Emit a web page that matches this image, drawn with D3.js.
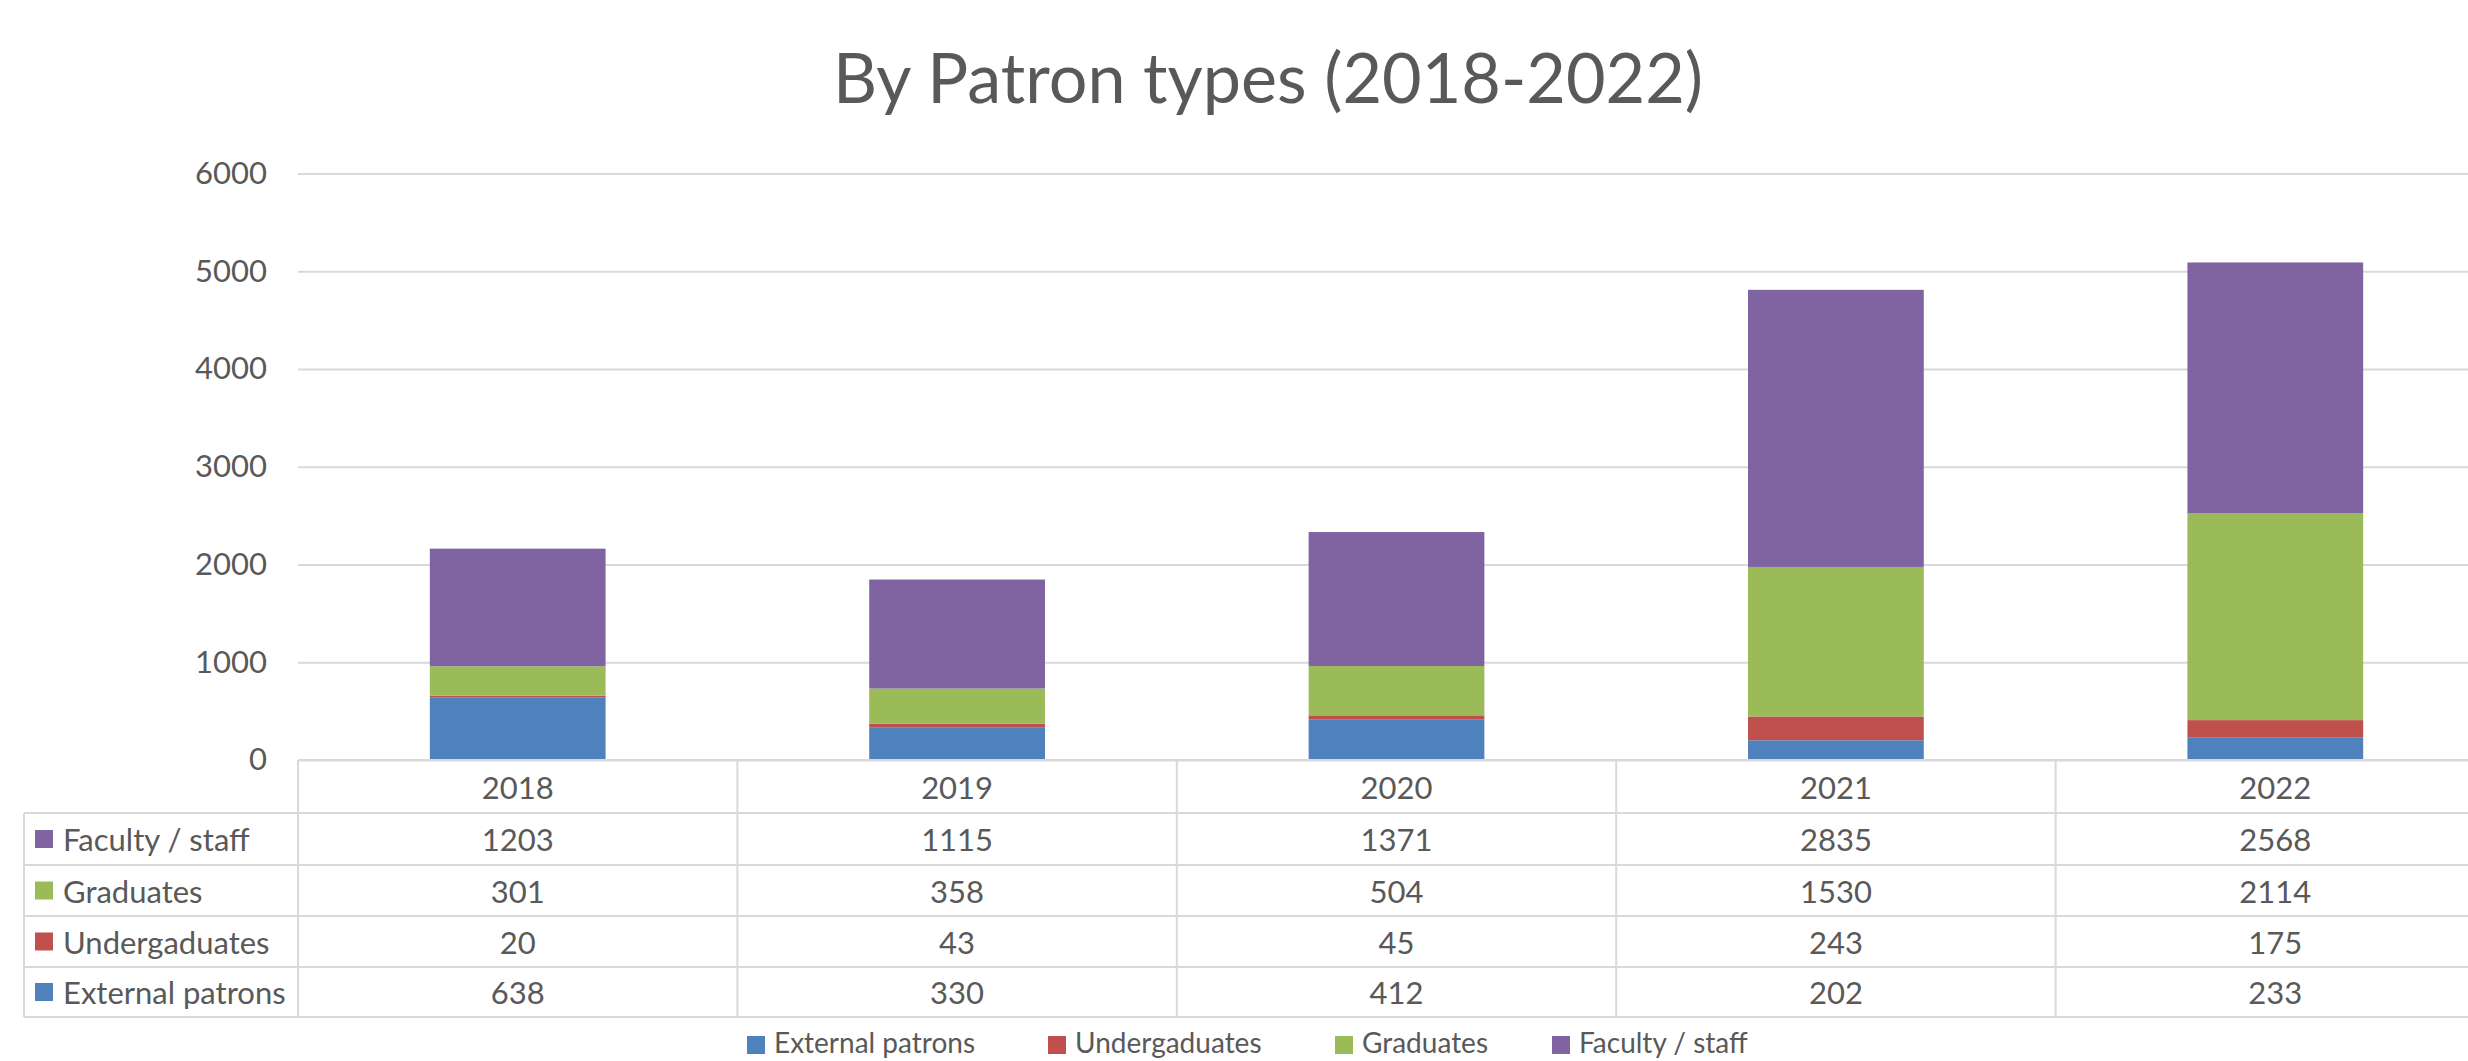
<!DOCTYPE html>
<html>
<head>
<meta charset="utf-8">
<script src="https://cdn.jsdelivr.net/npm/d3@7"></script>
<style>
  html, body { margin: 0; padding: 0; background: #fff; overflow: hidden; }
  svg { display: block; font-family: Lato, "Open Sans", sans-serif; }
</style>
</head>
<body>
<svg id="chart" width="2468" height="1061"></svg>
<script>
// ---- data ----
const years = ["2018", "2019", "2020", "2021", "2022"];
const seriesNames = ["External patrons", "Undergaduates", "Graduates", "Faculty / staff"];
const externalPatrons = [638, 330, 412, 202, 233];
const undergraduates = [20, 43, 45, 243, 175];
const graduates = [301, 358, 504, 1530, 2114];
const facultyStaff = [1203, 1115, 1371, 2835, 2568];
const yTicks = [0, 1000, 2000, 3000, 4000, 5000, 6000];
const colors = ["#4F81BD", "#C0504D", "#9BBB59", "#8064A2"];
const titleText = "By Patron types (2018-2022)";

const seriesValues = [externalPatrons, undergraduates, graduates, facultyStaff];
const rows = years.map((y, i) => {
  const r = { year: y };
  seriesNames.forEach((s, k) => r[s] = seriesValues[k][i]);
  return r;
});

// ---- layout ----
const svg = d3.select("#chart");
const textColor = "#595959";
const gridColor = "#d9d9d9";
const fs = 31;
const plotLeft = 298, step = 439.4;
const plotRight = plotLeft + step * years.length;
const yTop = 173.5, yBottom = 760;

const x = d3.scaleBand().domain(years).range([plotLeft, plotRight]).padding(0);
const y = d3.scaleLinear().domain([0, 6000]).range([yBottom, yTop]);
const color = d3.scaleOrdinal().domain(seriesNames).range(colors);

// title
svg.append("text")
  .attr("x", 1268).attr("y", 103)
  .attr("text-anchor", "middle")
  .attr("fill", textColor)
  .attr("font-size", 70)
  .attr("textLength", 870).attr("lengthAdjust", "spacingAndGlyphs")
  .text(titleText);

// y axis + gridlines
const yAxis = d3.axisLeft(y).tickValues(yTicks).tickSize(-(plotRight - plotLeft)).tickPadding(31).tickFormat(d3.format("d"));
const gy = svg.append("g").attr("transform", `translate(${plotLeft},0)`).call(yAxis);
gy.select(".domain").remove();
gy.selectAll(".tick line").attr("stroke", gridColor).attr("stroke-width", 2);
gy.selectAll(".tick text").attr("fill", textColor).attr("font-size", fs).attr("font-family", "Lato, 'Open Sans', sans-serif");

// stacked bars
const stack = d3.stack().keys(seriesNames);
const stacked = stack(rows);
const barFrac = 0.4;
svg.append("g").selectAll("g").data(stacked).join("g")
  .attr("fill", d => color(d.key))
  .selectAll("rect").data(d => d).join("rect")
  .attr("x", d => x(d.data.year) + x.bandwidth() * (1 - barFrac) / 2)
  .attr("width", x.bandwidth() * barFrac)
  .attr("y", d => y(d[1]))
  .attr("height", d => y(d[0]) - y(d[1]));

// data table
const headerTop = yBottom, headerBottom = 813;
const rowLines = [813, 865, 916, 967, 1017];
const tableLeft = 24;
const tableRows = [3, 2, 1, 0]; // Faculty, Graduates, Undergrad, External
const tg = svg.append("g");

tg.append("line").attr("x1", plotLeft).attr("x2", plotRight).attr("y1", headerTop).attr("y2", headerTop);
rowLines.forEach(ly => tg.append("line").attr("x1", tableLeft).attr("x2", plotRight).attr("y1", ly).attr("y2", ly));
tg.append("line").attr("x1", tableLeft).attr("x2", tableLeft).attr("y1", rowLines[0]).attr("y2", rowLines[rowLines.length - 1]);
years.forEach(yr => tg.append("line").attr("x1", x(yr)).attr("x2", x(yr)).attr("y1", headerTop).attr("y2", rowLines[rowLines.length - 1]));
tg.append("line").attr("x1", plotRight).attr("x2", plotRight).attr("y1", headerTop).attr("y2", rowLines[rowLines.length - 1]);
tg.selectAll("line").attr("stroke", gridColor).attr("stroke-width", 2);

years.forEach(yr => {
  tg.append("text").attr("x", x(yr) + x.bandwidth() / 2).attr("y", (headerTop + headerBottom) / 2)
    .attr("text-anchor", "middle").attr("dominant-baseline", "central")
    .attr("fill", textColor).attr("font-size", fs).text(yr);
});

tableRows.forEach((si, ri) => {
  const top = rowLines[ri], bottom = rowLines[ri + 1];
  const cy = (top + bottom) / 2;
  tg.append("rect").attr("x", 35).attr("y", cy - 9).attr("width", 18).attr("height", 18).attr("fill", colors[si]);
  tg.append("text").attr("x", 63).attr("y", cy).attr("dominant-baseline", "central")
    .attr("fill", textColor).attr("font-size", fs).text(seriesNames[si]);
  years.forEach((yr, yi) => {
    tg.append("text").attr("x", x(yr) + x.bandwidth() / 2).attr("y", cy)
      .attr("text-anchor", "middle").attr("dominant-baseline", "central")
      .attr("fill", textColor).attr("font-size", fs).text(seriesValues[si][yi]);
  });
});

// legend
const legendX = [747, 1048, 1335, 1552];
const lg = svg.append("g");
seriesNames.forEach((s, i) => {
  lg.append("rect").attr("x", legendX[i]).attr("y", 1036).attr("width", 18).attr("height", 18).attr("fill", colors[i]);
  lg.append("text").attr("x", legendX[i] + 27).attr("y", 1053)
    .attr("fill", textColor).attr("font-size", 28).text(s);
});
</script>
</body>
</html>
